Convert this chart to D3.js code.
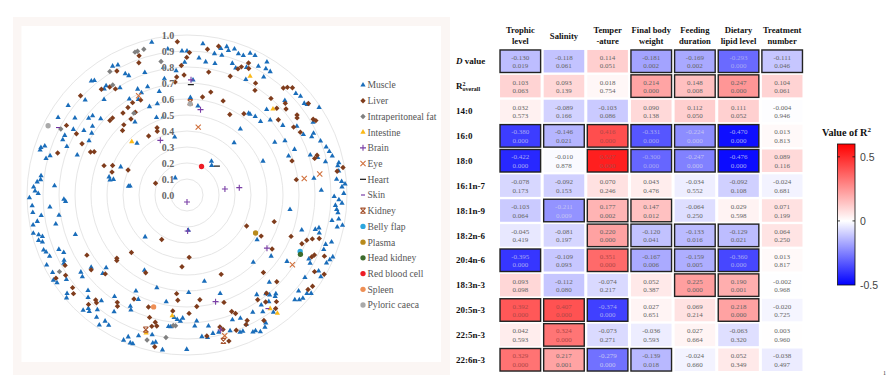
<!DOCTYPE html>
<html>
<head>
<meta charset="utf-8">
<script src="https://cdn.jsdelivr.net/npm/d3@7"></script>
<style>
html, body { margin: 0; padding: 0; background: #fff; }
svg { display: block; }
</style>
</head>
<body>
<div class="canvas"></div>
<script>
// polar panel values: [angle in degrees clockwise from the top, R2]
const muscle = [[347,.98],[352.5,.92],[358,.90],[359,.83],[355,.78],[349.5,.81],[349,.74],[341,.81],[332,.92],[330,.93],[333,.85],[334,.83],[321,.92],[320,.93],[323.5,.85],[322,.84],[328,.79],[319,.79],[335,.73],[340,.72],[336,.70],[345,.67],[342,.60],[337,.60],[333,.67],[329,.70],[307,.93],[313,.87],[301,.94],[304.5,.85],[308,.78],[310,.77],[311.5,.72],[324.5,.56],[338.5,.52],[343,.51],[302,.76],[306,.73],[303,.71],[300,.82],[296,.85],[294,.85],[299,.70],[292,.81],[316,.45],[348,.37],[290,.73],[286,.89],[284.5,.91],[289,.94],[288,.96],[287,.96],[293,.45],[282,.47],[283,.50],[281,.49],[325.5,.13],[279,.36],[278.5,.37],[277.5,.92],[276,.92],[275,.94],[274,.83],[273,.96],[271.5,.95],[270.6,.93],
  [6,.95],[0,.90],[5,.86],[8,.84],[12,.84],[11,.90],[14,.90],[13,.94],[15,.96],[16,.94],[18,.96],[20,.94],[22,.94],[24,.97],[26,.97],[19,.87],[21,.85],[25,.88],[29,.92],[31,.97],[32,.93],[34,.93],[27,.81],[33,.88],[3,.72],[2,.61],[7,.56],[46,.85],[47,.93],[49,.94],[52,.93],[53,.94],[56.5,.99],[43,.73],[37,.64],[38,.64],[41,.65],[45,.65],[48,.70],[54,.74],[58,.81],[60,.91],[62.5,.82],[64,.88],[65,.86],[68,.90],[71,.92],[73,.93],[75,.94],[39,.53],[42,.44],[59,.64],[61,.70],[67,.73],[72,.81],[74,.85],[69,.68],[76.5,.89],[78,.97],[79,.96],[81,.96],[84,.94],[85,.97],[86,.99],[87,.97],[88,.84],[82.5,.80],[89.4,.98],[36,.26],[40,.24],[66,.52],
  [269,.985],[268,.77],[267,.76],[265,.86],[266,.97],[263.5,.97],[262,.92],[261,.81],[260,.95],[259,.98],[257.5,.84],[256,.99],[255,.96],[254,.94],[250.5,.74],[253,.97],[252,.95],[247,.87],[249,.96],[248,.95],[245,.85],[246,.94],[242,.87],[241,.88],[243.5,.98],[240,.97],[228,.68],[233,.75],[234,.82],[232,.83],[227,.72],[236,.98],[237.5,.99],[235,.92],[230.6,.97],[229.5,.99],[226,.86],[224,.89],[219,.85],[222,.97],[221,.94],[220,.95],[218,.91],[216.5,.95],[213,.94],[211,.95],[214,.98],[215.5,.78],[212,.86],[207,.78],[206,.80],[205,.72],[208,.68],[198,.61],[209.5,.54],[225,.37],[191,.68],[188,.83],[187,.83],[186,.77],[184.5,.78],[183,.79],[182,.77],[179,.61],[202.5,.96],[203.6,.99],[201,.99],[200,.99],[199,.93],[194,.90],[193,.95],[192,.94],[189,.98],[180.1,.965],[178,.22],
  [90.6,.92],[91.8,.95],[93,.97],[94,.93],[95.5,.94],[96.7,.95],[99,.96],[100,.92],[102,.96],[101,.99],[105,.83],[104,.85],[106,.86],[107,.75],[98,.65],[122.6,.52],[126,.65],[135.4,.59],[109.6,.92],[108,.95],[111.7,.92],[117.7,.86],[119,.88],[123.6,.75],[113,.99],[114.4,.98],[116,.97],[125,.90],[120,.95],[121.4,.98],[136.7,.75],[168.6,.55],[161.4,.65],[138,.83],[139,.84],[145,.76],[141.4,.79],[140.4,.81],[146,.83],[142.5,.84],[130.7,.92],[134.2,.94],[133,.96],[131.7,.97],[129.4,.97],[128.4,.99],[147,.87],[150.7,.84],[143.6,.91],[160,.83],[156.6,.84],[155.4,.89],[148.4,.94],[149.5,.96],[154.3,.95],[153.2,.95],[151.8,.97],[158.9,.92],[157.7,.92],[170.7,.83],[175.6,.79],[176.6,.82],[174,.89],[171.8,.90],[169.4,.88],[167,.88],[162.4,.89]];
const liver = [[356.4,.96],[341,.92],[340,.88],[330.5,.89],[321,.85],[324.4,.83],[326,.80],[313,.91],[334,.66],[329.5,.67],[326,.66],[322,.65],[328,.61],[316,.67],[314,.67],[323.6,.59],[318,.59],[315,.57],[300,.87],[299,.79],[296,.73],[288,.85],[294,.66],[295,.64],[327,.44],[336,.46],[335,.44],[289.5,.55],[291.6,.50],[287,.49],[293,.40],[290.6,.21],[357.5,.81],[354,.71],[355,.74],[359.9,.86],
  [8,.92],[12,.95],[1,.89],[358.6,.75],[10,.78],[20,.79],[22,.85],[23,.87],[25,.91],[26,.88],[31.5,.82],[33,.78],[13,.66],[9,.62],[21,.63],[41,.80],[42,.90],[43,.92],[44.5,.94],[53,.95],[47,.84],[46,.78],[49,.82],[54,.85],[55,.84],[59,.92],[60,.93],[50.5,.74],[57.5,.79],[61,.81],[28,.57],[35,.62],[73,.85],[74,.83],[72,.69],[80,.99],[81,.95],[82,.69],
  [209.6,.32],[224,.50],[239,.73],[228,.59],[227,.60],[232,.76],[240,.88],[236.5,.91],[237.6,.97],[231,.92],[229,.94],[222,.92],[221,.87],[220,.88],[213,.80],[212,.82],[226,.71],[208,.55],[184,.45],[178,.39],[186,.62],[185,.66],[207,.73],[199,.74],[187,.73],[179,.74],[197,.80],[195,.85],[194,.82],[193,.84],[192,.97],
  [117.5,.42],[107,.57],[119,.53],[111.7,.70],[113,.78],[110.7,.80],[109.3,.83],[108.2,.87],[116.4,.87],[115.2,.88],[114,.94],[122.4,.63],[121,.93],[120,.99],[135.4,.68],[134,.78],[156.7,.54],[128,.96],[126,.97],[141,.79],[146,.79],[173,.66],[161,.71],[175,.70],[159,.78],[157.7,.80],[142,.90],[140,.87],[143.7,.83],[154.4,.87],[155.5,.89],[148.5,.92],[160,.90],[165,.87],[166,.85],[172,.89],[164,.95]];
const fat = [[343.5,.95],[341,.95],[340,.95],[349,.85],[328,.91],[326,.83],[327,.61],[297.6,.89],[239,.93],[186,.82],[185,.82],[188.4,.90],[195.4,.94]];
const intestine = [[314,.48],[28,.84],[45,.76],[187,.76],[196.5,.90],[143.8,.88],[142.6,.93]];
const brain = [[334,.38],[2,.72],[9,.54],[81,.24],[82,.33],[180,.044],[179,.225],[123.6,.60],[165,.69],[166,.87]];
const eye = [[334,.69],[9.4,.43],[82,.74],[81,.84],[123.5,.79],[165,.91]];
const heart = [[46,.26],[2,.69]];
const skin = [[297.6,.91],[144.7,.87]];
const kidney = [[2,.58],[197,.88],[166,.94]];
const bellyFlap = [[116.5,.79]];
const plasma = [[119,.49]];
const headKidney = [[117.6,.80]];
const redBloodCell = [[27,.20]];
const spleen = [[196.6,.73]];
const pyloricCaeca = [[296.5,.97],[2,.57]];

const radialTicks = [0, .1, .2, .3, .4, .5, .6, .7, .8, .9, 1];

// heatmap values
const columns = [['Trophic','level'],['Salinity'],['Temper','-ature'],['Final body','weight'],['Feeding','duration'],['Dietary','lipid level'],['Treatment','number']];
const rows = ['D value','R2overall','14:0','16:0','18:0','16:1n-7','18:1n-9','18:2n-6','20:4n-6','18:3n-3','20:5n-3','22:5n-3','22:6n-3'];
const rValues = [
  [-0.130,-0.118,0.114,-0.181,-0.169,-0.293,-0.111],
  [0.103,0.093,0.018,0.214,0.148,0.247,0.104],
  [0.032,-0.089,-0.103,0.090,0.112,0.111,-0.004],
  [-0.380,-0.146,0.416,-0.331,-0.224,-0.470,0.013],
  [-0.422,-0.010,0.527,-0.300,-0.247,-0.476,0.089],
  [-0.078,-0.092,0.070,0.043,-0.034,-0.092,-0.024],
  [-0.103,-0.211,0.177,0.147,-0.064,0.029,0.071],
  [-0.045,-0.081,0.220,-0.120,-0.133,-0.129,0.064],
  [-0.395,-0.109,0.351,-0.167,-0.159,-0.360,0.013],
  [0.093,-0.112,-0.074,0.052,0.225,0.190,-0.002],
  [0.392,0.407,-0.374,0.027,0.069,0.218,-0.020],
  [0.042,0.324,-0.073,-0.036,0.027,-0.063,0.003],
  [0.329,0.217,-0.279,-0.139,-0.024,0.052,-0.038]];
const pValues = [
  [0.019,0.061,0.051,0.002,0.002,0.000,0.046],
  [0.063,0.139,0.754,0.000,0.008,0.000,0.061],
  [0.573,0.166,0.086,0.138,0.050,0.052,0.946],
  [0.000,0.021,0.000,0.000,0.000,0.000,0.813],
  [0.000,0.878,0.000,0.000,0.000,0.000,0.116],
  [0.173,0.153,0.246,0.476,0.552,0.108,0.681],
  [0.064,0.009,0.002,0.012,0.250,0.598,0.199],
  [0.419,0.197,0.000,0.041,0.016,0.021,0.250],
  [0.000,0.093,0.000,0.006,0.005,0.000,0.817],
  [0.098,0.080,0.217,0.387,0.000,0.001,0.968],
  [0.000,0.000,0.000,0.651,0.214,0.000,0.725],
  [0.593,0.000,0.271,0.593,0.664,0.320,0.960],
  [0.000,0.001,0.000,0.018,0.660,0.349,0.497]];
const legendTicks = [0.5, 0, -0.5];

const svg = d3.select('.canvas')
.append('svg')
.attr('width', 886)
.attr('height', 392);

const serif = '"Liberation Serif", serif';

// pale panel behind the polar plot
svg.append('rect').attr('x', 13).attr('y', 17).attr('width', 437).attr('height', 358).attr('fill', '#fbf6f4');
svg.append('rect').attr('x', 21.5).attr('y', 26).attr('width', 419.5).attr('height', 336).attr('fill', '#fff');

//polar plot
const polar = svg.append('g').attr('transform', 'translate(187,195)');
const r = d3.scaleLinear().domain([0, 1]).range([0, 160]);
const angle = d3.scaleLinear().domain([0, 360]).range([0, 2 * Math.PI]);

polar.selectAll('circle.ring')
.data(radialTicks.slice(1))
.enter().append('circle')
.attr('class', 'ring')
.attr('r', d => r(d))
.attr('fill', 'none')
.attr('stroke', '#e6e6e6')
.attr('stroke-width', 1);

const sym = (type, size) => d3.symbol().type(type).size(size)();
const dash = w => `M${-w},0H${w}`;
const diamond = 'M0,-2.7L2.7,0L0,2.7L-2.7,0Z';
const tissues = [
  { name: 'Muscle', data: muscle, color: '#1a6dba', path: sym(d3.symbolTriangle, 12) },
  { name: 'Liver', data: liver, color: '#7f3c1c', path: diamond },
  { name: 'Intraperitoneal fat', data: fat, color: '#808080', path: diamond },
  { name: 'Intestine', data: intestine, color: '#fbb918', path: sym(d3.symbolTriangle, 12) },
  { name: 'Brain', data: brain, color: '#7a3fa6', path: 'M-3,0H3M0,-3V3', line: true },
  { name: 'Eye', data: eye, color: '#d0703c', path: 'M-2.6,-2.6L2.6,2.6M-2.6,2.6L2.6,-2.6', line: true },
  { name: 'Heart', data: heart, color: '#000', path: dash(3), line: true },
  { name: 'Skin', data: skin, color: '#7030a0', path: dash(2), line: true },
  { name: 'Kidney', data: kidney, color: '#a5522d', path: 'M-2.6,-2.6L2.6,2.6M-2.6,2.6L2.6,-2.6M-2.6,-2.6H2.6M-2.6,2.6H2.6', line: true },
  { name: 'Belly flap', data: bellyFlap, color: '#2ba6de', path: sym(d3.symbolCircle, 22) },
  { name: 'Plasma', data: plasma, color: '#b88a1c', path: sym(d3.symbolCircle, 22) },
  { name: 'Head kidney', data: headKidney, color: '#3c6b2c', path: sym(d3.symbolCircle, 22) },
  { name: 'Red blood cell', data: redBloodCell, color: '#ee1c25', path: sym(d3.symbolCircle, 22) },
  { name: 'Spleen', data: spleen, color: '#ee8f55', path: sym(d3.symbolCircle, 22) },
  { name: 'Pyloric caeca', data: pyloricCaeca, color: '#a9a9a9', path: sym(d3.symbolCircle, 22) }
];

const styleMark = (sel, t) => sel
  .attr('d', t.path)
  .attr('fill', t.line ? 'none' : t.color)
  .attr('stroke', t.line ? t.color : 'none')
  .attr('stroke-width', t.line ? 1.1 : 0);

tissues.forEach(t => {
  polar.append('g').selectAll('path')
  .data(t.data)
  .enter().append('path')
  .call(styleMark, t)
  .attr('transform', d => {
    const [px, py] = d3.pointRadial(angle(d[0]), r(d[1]));
    return `translate(${px},${py})`;
  });
});

polar.selectAll('text.tick')
.data(radialTicks)
.enter().append('text')
.attr('class', 'tick')
.attr('x', -19)
.attr('y', d => -r(d))
.attr('dy', '0.35em')
.attr('text-anchor', 'middle')
.style('font', `bold 10px ${serif}`)
.attr('fill', '#666')
.attr('stroke', '#fff')
.attr('stroke-width', 0.6)
.style('paint-order', 'stroke')
.text(d => d.toFixed(1));

// legend of tissues
const legendY = d3.scalePoint().domain(tissues.map(t => t.name)).range([85, 305]);
const legend = svg.selectAll('g.tissue')
.data(tissues)
.enter().append('g')
.attr('class', 'tissue')
.attr('transform', d => `translate(363,${legendY(d.name)})`);
legend.each(function (t) { d3.select(this).append('path').call(styleMark, t); });
legend.append('text')
.attr('x', 4.5)
.attr('dy', '0.35em')
.style('font', `9.6px ${serif}`)
.attr('fill', '#555')
.text(d => d.name);

//heatmap
const x = d3.scaleBand().domain(d3.range(columns.length)).range([498.5, 804]).paddingInner(0.07).paddingOuter(0.035);
const y = d3.scaleBand().domain(d3.range(rows.length)).range([48.8, 372.2]).paddingInner(0.095).paddingOuter(0.047);
const color = d3.scaleLinear().domain([-0.5, 0, 0.6]).range(['#0000ff', '#ffffff', '#ff0000']);

const textColor = v => v < -0.28 ? '#a8a8f4' : v < -0.2 ? '#c4c4f4' : v > 0.3 ? '#b04848' : '#666';

const cells = rValues.flatMap((row, i) => row.map((v, j) => ({ i, j, v, p: pValues[i][j] })));
const cell = svg.selectAll('g.cell')
.data(cells)
.enter().append('g')
.attr('class', 'cell')
.attr('transform', d => `translate(${x(d.j)},${y(d.i)})`);

cell.append('rect')
.attr('width', x.bandwidth())
.attr('height', y.bandwidth())
.attr('fill', d => color(d.v))
.attr('stroke', d => d.p < 0.05 ? '#222' : 'none')
.attr('stroke-width', 1.4);

cell.append('text')
.attr('x', x.bandwidth() / 2)
.attr('y', 9.8)
.attr('text-anchor', 'middle')
.style('font', `7px ${serif}`)
.attr('fill', d => textColor(d.v))
.text(d => d.v.toFixed(3));

cell.append('text')
.attr('x', x.bandwidth() / 2)
.attr('y', 18.3)
.attr('text-anchor', 'middle')
.style('font', `7px ${serif}`)
.attr('fill', d => textColor(d.v))
.text(d => d.p.toFixed(3));

// row labels
const rowText = svg.selectAll('text.row')
.data(rows)
.enter().append('text')
.attr('class', 'row')
.attr('x', 456)
.attr('y', (d, i) => y(i) + y.bandwidth() / 2)
.attr('dy', '0.35em')
.style('font', `bold 9px ${serif}`)
.attr('fill', '#111');
rowText.each(function (d) {
  const t = d3.select(this);
  if (d === 'D value') {
    t.append('tspan').style('font-style', 'italic').text('D');
    t.append('tspan').text(' value');
  } else if (d === 'R2overall') {
    t.append('tspan').text('R');
    t.append('tspan').attr('dy', -3).style('font-size', '6px').text('2');
    t.append('tspan').attr('dy', 5).attr('dx', -3).style('font-size', '6px').text('overall');
  } else {
    t.text(d);
  }
});

// column headers
const colText = svg.selectAll('text.col')
.data(columns)
.enter().append('text')
.attr('class', 'col')
.attr('text-anchor', 'middle')
.attr('y', d => d.length === 1 ? 39 : 33)
.style('font', `bold 8.6px ${serif}`)
.attr('fill', '#111');
colText.selectAll('tspan')
.data((d, j) => d.map(s => ({ s, j })))
.enter().append('tspan')
.attr('x', d => x(d.j) + x.bandwidth() / 2)
.attr('dy', (d, i) => i ? 10.5 : 0)
.text(d => d.s);

// colour bar
const barScale = d3.scaleLinear().domain([-0.5, 0.6]).range([285, 144]);
const defs = svg.append('defs');
const grad = defs.append('linearGradient').attr('id', 'bar').attr('x1', 0).attr('y1', 1).attr('x2', 0).attr('y2', 0);
grad.selectAll('stop')
.data([-0.5, 0, 0.6])
.enter().append('stop')
.attr('offset', d => (d + 0.5) / 1.1)
.attr('stop-color', d => color(d));

svg.append('rect')
.attr('x', 837.5)
.attr('y', barScale(0.6))
.attr('width', 17.5)
.attr('height', barScale(-0.5) - barScale(0.6))
.attr('fill', 'url(#bar)')
.attr('stroke', '#111')
.attr('stroke-width', 0.8);

const barAxis = d3.axisRight(barScale).tickValues(legendTicks).tickFormat(d => d === 0 ? '0' : d).tickSize(0).tickPadding(0);
const barG = svg.append('g').attr('transform', 'translate(860,0)').call(barAxis);
barG.select('.domain').remove();
barG.selectAll('text').style('font', '10.5px "Liberation Sans", sans-serif').attr('fill', '#444');

svg.selectAll('line.bartick')
.data([0.5, 0])
.enter().append('line')
.attr('class', 'bartick')
.attr('y1', d => barScale(d)).attr('y2', d => barScale(d))
.attr('x1', 837.5).attr('x2', 840)
.attr('stroke', '#111').attr('stroke-width', 0.8);
svg.selectAll('line.bartick2')
.data([0.5, 0])
.enter().append('line')
.attr('class', 'bartick2')
.attr('y1', d => barScale(d)).attr('y2', d => barScale(d))
.attr('x1', 852.5).attr('x2', 855)
.attr('stroke', '#111').attr('stroke-width', 0.8);

const barTitle = svg.append('text')
.attr('x', 822)
.attr('y', 136)
.style('font', `bold 10.2px ${serif}`)
.attr('fill', '#111');
barTitle.append('tspan').text('Value of R');
barTitle.append('tspan').attr('dy', -4).style('font-size', '7px').text('2');

svg.append('text').attr('x', 883).attr('y', 375).style('font', `6px ${serif}`).attr('fill', '#333').text('1');
</script>
</body>
</html>
